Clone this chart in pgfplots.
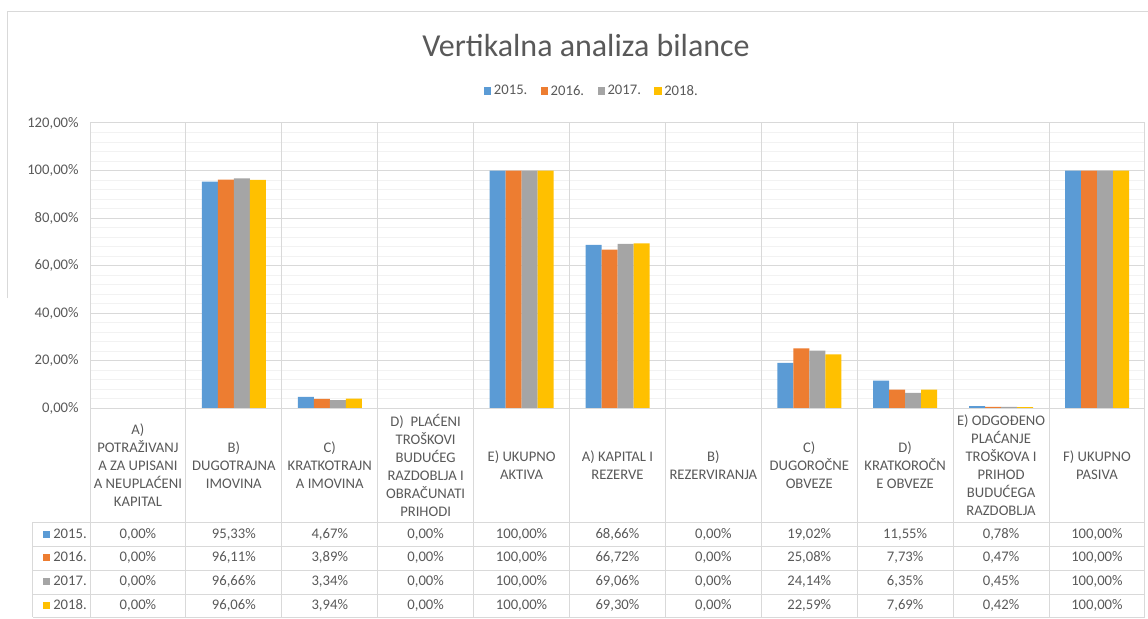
\documentclass[border=0pt]{standalone}
\usepackage{pgfplots}
\usepackage{pgfplotstable}
\pgfplotsset{compat=1.18}
\usepackage{fontspec}
\setmainfont{Carlito}
\pgfset{/pgf/number format/assume math mode=true}

\definecolor{c15}{HTML}{5B9BD5}
\definecolor{c16}{HTML}{ED7D31}
\definecolor{c17}{HTML}{A5A5A5}
\definecolor{c18}{HTML}{FFC000}
\definecolor{txt}{HTML}{595959}
\definecolor{grid}{HTML}{D9D9D9}
\definecolor{minorgrid}{HTML}{F2F2F2}

\newcommand\tfont{\fontsize{11}{13.5}\selectfont}

% share of total (%), one column per year
\pgfplotstableread{
x y15 y16 y17 y18
0 0 0 0 0
1 95.33 96.11 96.66 96.06
2 4.67 3.89 3.34 3.94
3 0 0 0 0
4 100 100 100 100
5 68.66 66.72 69.06 69.30
6 0 0 0 0
7 19.02 25.08 24.14 22.59
8 11.55 7.73 6.35 7.69
9 0.78 0.47 0.45 0.42
10 100 100 100 100
}\datatable

\begin{document}
\begin{tikzpicture}
\begin{axis}[
    name=ax,
    scale only axis,
    width=791.25pt,
    height=213.75pt,
    ybar=0pt,
    bar width=12pt,
    xmin=-0.5, xmax=10.5,
    ymin=0, ymax=120,
    xtick=\empty,
    ytick={0,20,...,120},
    minor y tick num=4,
    ymajorgrids, yminorgrids,
    major grid style={draw=grid, line width=0.75pt},
    minor grid style={draw=minorgrid, line width=0.75pt},
    axis line style={draw=none},
    tick style={draw=none},
    yticklabel={\pgfmathprintnumber[fixed,fixed zerofill,precision=2,use comma]{\tick}\%},
    yticklabel style={font=\tfont, text=txt, xshift=-5pt},
    legend style={at={(0.476,1.112)}, anchor=center, draw=none, fill=none,
        font=\tfont, text=txt, legend columns=4,
        /tikz/every even column/.append style={column sep=8pt}},
    legend image code/.code={\fill[#1] (0pt,-2.75pt) rectangle (5.5pt,2.75pt);},
]
\addplot[fill=c15, draw=none] table[x=x, y=y15] {\datatable};
\addplot[fill=c16, draw=none] table[x=x, y=y16] {\datatable};
\addplot[fill=c17, draw=none] table[x=x, y=y17] {\datatable};
\addplot[fill=c18, draw=none] table[x=x, y=y18] {\datatable};
\legend{2015.,2016.,2017.,2018.}
\draw[grid, line width=0.75pt] (rel axis cs:0,0) -- (rel axis cs:1,0);
\end{axis}

% image pixel frame: (0,0) top left, 1148 x 618
\begin{scope}[shift={(ax.south west)}, xshift=-67.5pt, yshift=306pt, x=0.75pt, y=-0.75pt]
  % chart border
  \draw[grid, line width=0.75pt] (8,298) -- (8,12) -- (1148,12);
  % title
  \node[anchor=base, font=\fontsize{24}{28}\selectfont, text=txt] at (586,57) {Vertikalna analiza bilance};
  % table grid
  \foreach \k in {0,...,11}
    \draw[grid, line width=0.75pt] ({90+\k*95.9},123) -- ({90+\k*95.9},617);
  \foreach \r in {522,546,570,594,617}
    \draw[grid, line width=0.75pt] (33,\r) -- (1145,\r);
  \draw[grid, line width=0.75pt] (33,522) -- (33,617);
  % row keys
  \foreach \c/\yr/\r in {c15/2015./534,c16/2016./557,c17/2017./581,c18/2018./605} {
    \fill[\c] (43,\r-3.5) rectangle (50,\r+3.5);
    \node[anchor=west, font=\tfont, text=txt, inner sep=0pt] at (53,\r) {\yr};
  }
  % category headers
  \foreach \i/\lab in {
      0/{A)\\POTRAŽIVANJ\\A ZA UPISANI\\A NEUPLAĆENI\\KAPITAL},
      1/{B)\\DUGOTRAJNA\\IMOVINA},
      2/{C)\\KRATKOTRAJN\\A IMOVINA},
      3/{D)~~PLAĆENI\\TROŠKOVI\\BUDUĆEG\\RAZDOBLJA I\\OBRAČUNATI\\PRIHODI},
      4/{E) UKUPNO\\AKTIVA},
      5/{A) KAPITAL I\\REZERVE},
      6/{B)\\REZERVIRANJA},
      7/{C)\\DUGOROČNE\\OBVEZE},
      8/{D)\\KRATKOROČN\\E OBVEZE},
      9/{E) ODGOĐENO\\PLAĆANJE\\TROŠKOVA I\\PRIHOD\\BUDUĆEGA\\RAZDOBLJA},
      10/{F) UKUPNO\\PASIVA}}
    \node[align=center, font=\tfont, text=txt, inner sep=0pt] at ({90+(\i+0.5)*95.9},465) {\lab};
  % table values
  \foreach \i in {0,...,10} {
    \foreach \c/\r in {y15/534,y16/557,y17/581,y18/605} {
      \pgfplotstablegetelem{\i}{\c}\of\datatable
      \node[font=\tfont, text=txt, inner sep=0pt] at ({90+(\i+0.5)*95.9},\r)
        {\pgfmathprintnumber[fixed,fixed zerofill,precision=2,use comma]{\pgfplotsretval}\%};
    }
  }
  \pgfresetboundingbox
  \path[use as bounding box] (0,0) rectangle (1148,618);
\end{scope}
\end{tikzpicture}
\end{document}
